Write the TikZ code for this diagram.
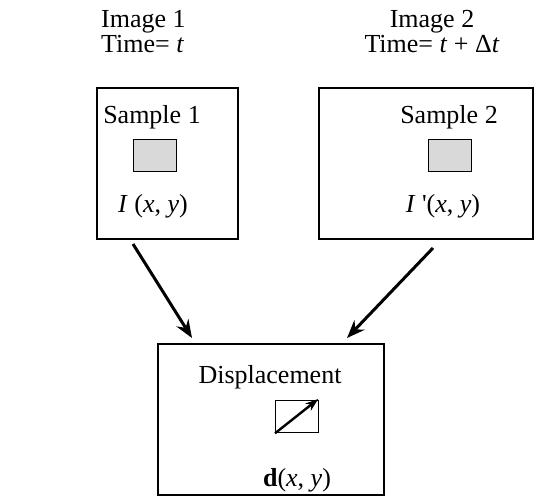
\documentclass[tikz,border=0pt]{standalone}
\usepackage{fontspec}
\setmainfont{Liberation Serif}
\usepackage{tikz}
\usetikzlibrary{arrows.meta}
\definecolor{patchc}{HTML}{D9D9D9}
\tikzset{
  frame/.style={draw=black,line width=1.8pt,anchor=north west,inner sep=0pt},
  patch/.style={draw=black,line width=1.3pt,fill=patchc,anchor=north west,inner sep=0pt,minimum width=43pt,minimum height=32pt},
  lbl/.style={anchor=base,inner sep=0pt,font=\fontsize{26}{25}\selectfont},
  ar/.style={-{Stealth[length=18pt,width=14pt,inset=6pt]},line width=3pt}
}

\begin{document}
\begin{tikzpicture}[x=1pt,y=-1pt]
\useasboundingbox (0,0) rectangle (534,496);
% frames
\node[frame,minimum width=141pt,minimum height=151pt] (img1) at (96,87) {};
\node[frame,minimum width=214pt,minimum height=151pt] (img2) at (318,87) {};
\node[frame,minimum width=226pt,minimum height=151pt] (disp) at (157,343) {};
% headings
\node[lbl,anchor=base west] (head1) at (101,27) {Image 1};
\node[lbl,anchor=base west] (time1) at (101,52) {Time= \textit{t}};
\node[lbl] (head2) at (432,27) {Image 2};
\node[lbl] (time2) at (432,52) {Time= \textit{t} + Δ\textit{t}};
% sample 1
\node[lbl] (s1) at (152,123) {Sample 1};
\node[patch] (p1) at (133,139) {};
\node[lbl] (i1) at (153,212) {\textit{I} (\textit{x}, \textit{y})};
% sample 2
\node[lbl] (s2) at (449,123) {Sample 2};
\node[patch] (p2) at (428,139) {};
\node[lbl] (i2) at (443,212) {\textit{I} \textquotesingle(\textit{x}, \textit{y})};
% displacement
\node[lbl] (dl) at (270,383) {Displacement};
\node[draw=black,line width=1.3pt,anchor=north west,inner sep=0pt,minimum width=43pt,minimum height=32pt] (vb) at (275,400) {};
\draw[-{Stealth[length=13pt,width=9pt,inset=4pt]},line width=2.4pt] (vb.south west) -- ([xshift=-1pt,yshift=1pt]vb.north east);
\node[lbl] (dv) at (297,486) {\textbf{d}(\textit{x}, \textit{y})};
% connectors
\coordinate (a1) at (133,244);
\coordinate (b1) at (192,338);
\coordinate (a2) at (433,248);
\coordinate (b2) at (347,338);
\draw[ar] (a1) -- (b1);
\draw[ar] (a2) -- (b2);
\end{tikzpicture}
\end{document}
